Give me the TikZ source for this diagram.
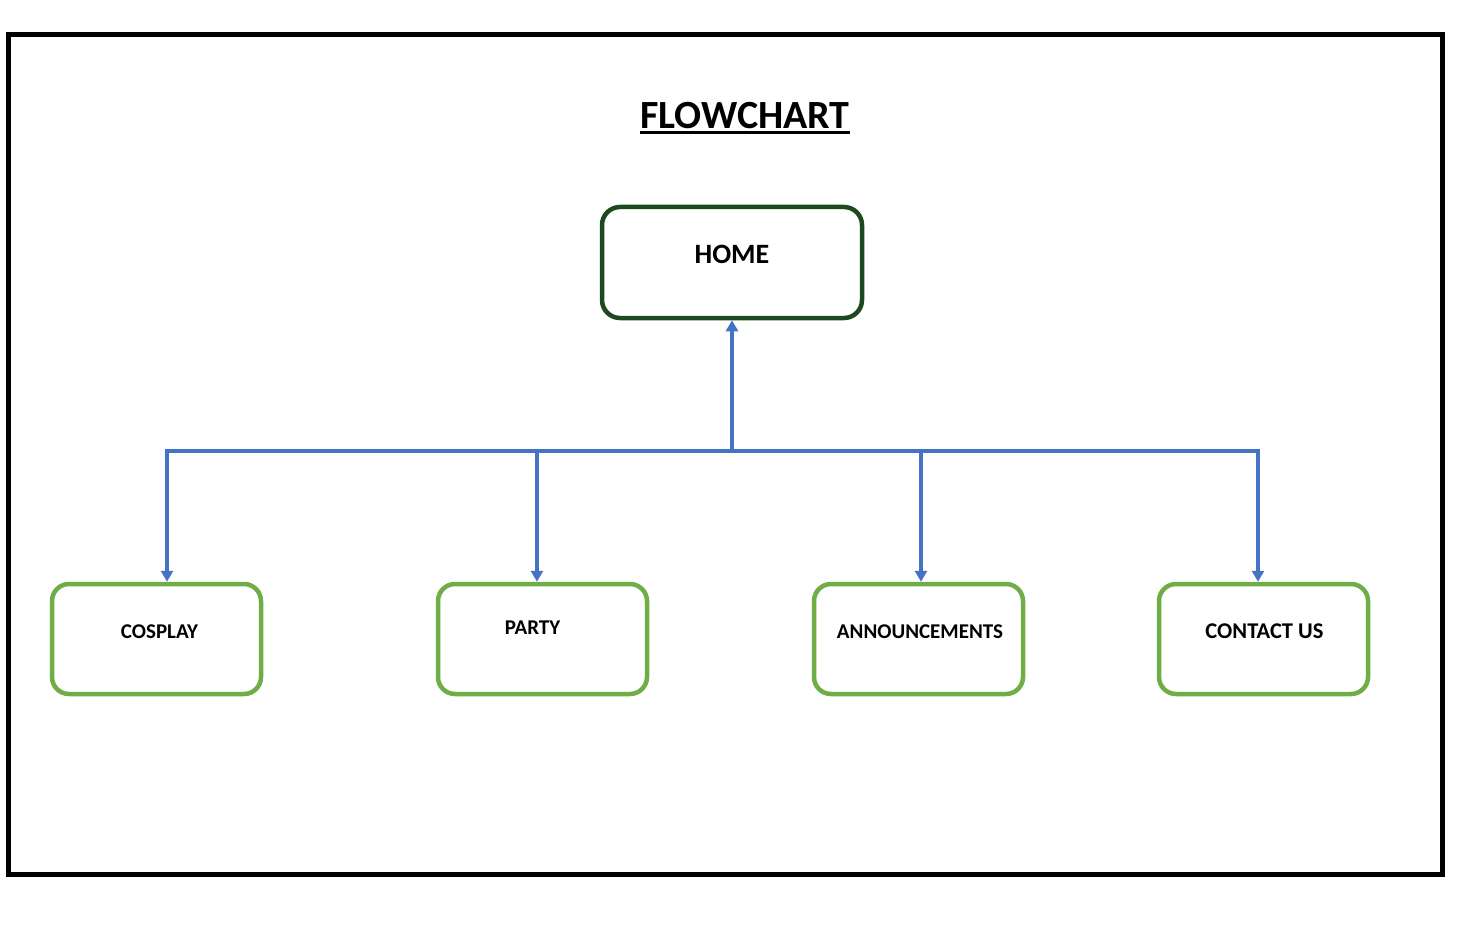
\documentclass[tikz,border=0pt]{standalone}
\usepackage{fontspec}
\setmainfont{Carlito}
\usetikzlibrary{arrows.meta}
\definecolor{linkblue}{RGB}{68,114,196}
\definecolor{leafgreen}{RGB}{112,173,71}
\definecolor{homegreen}{RGB}{30,72,30}

\begin{document}
\begin{tikzpicture}[x=1pt,y=-1pt,
	page/.style={draw=homegreen,line width=4.5pt,rounded corners=18pt,fill=white,inner sep=0pt,minimum width=260pt,minimum height=111pt},
	leaf/.style={draw=leafgreen,line width=4.5pt,rounded corners=17pt,fill=white,inner sep=0pt,minimum width=209pt,minimum height=110pt},
	link/.style={draw=linkblue,line width=3.5pt},
	tip/.style={-{Triangle[width=12pt,length=11pt]}},
	small/.style={font=\fontsize{21}{25}\selectfont\bfseries},
	big/.style={font=\fontsize{28}{33}\selectfont\bfseries}]
	\useasboundingbox (0,0) rectangle (1471,933);
	\draw[line width=5pt] (8.5,34.5) rectangle (1442.5,874.5);
	\node[font=\fontsize{40}{48}\selectfont\bfseries,inner sep=0pt] (title) at (745,116) {FLOWCHART};
	\draw[line width=3pt] ([yshift=-4pt]title.base west) -- ([yshift=-4pt]title.base east);
	\node[page,label={[big,yshift=8.5pt]center:HOME}] (home) at (732,262.5) {};
	\node[leaf,label={[small,xshift=3pt,yshift=7pt]center:COSPLAY}] (cosplay) at (156.5,639) {};
	\node[leaf,label={[small,xshift=-10pt,yshift=11pt]center:PARTY}] (party) at (542.5,639) {};
	\node[leaf,label={[small,xshift=1.5pt,yshift=7pt]center:ANNOUNCEMENTS}] (news) at (918.5,639) {};
	\node[leaf,label={[small,font=\fontsize{22.5}{27}\selectfont\bfseries,xshift=1pt,yshift=8pt]center:CONTACT US}] (contact) at (1263.5,639) {};
	\coordinate (bus) at (732,451);
	\draw[link,tip] (bus) -- (home.south);
	\draw[link,tip] (bus) -| ([xshift=10.5pt]cosplay.north);
	\draw[link,tip] (bus) -| ([xshift=-5.5pt]party.north);
	\draw[link,tip] (bus) -| ([xshift=2.5pt]news.north);
	\draw[link,tip] (bus) -| ([xshift=-5.5pt]contact.north);
\end{tikzpicture}
\end{document}
